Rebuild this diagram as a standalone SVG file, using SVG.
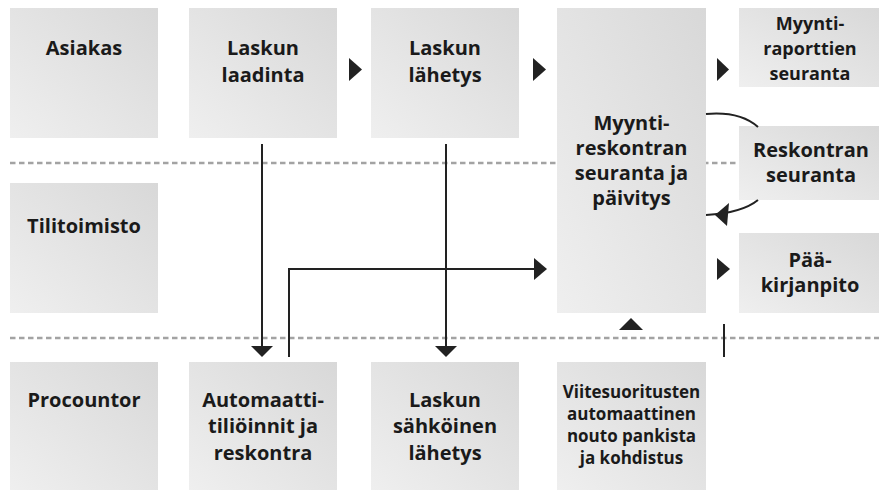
<svg xmlns="http://www.w3.org/2000/svg" width="879" height="490" viewBox="0 0 879 490">
<defs>
<linearGradient id="g" x1="0" y1="1" x2="1" y2="0">
<stop offset="0" stop-color="#efefef"/>
<stop offset="1" stop-color="#d8d8d8"/>
</linearGradient>
</defs>
<style>
.box{fill:url(#g)}
.t{font-family:"Open Sans","Liberation Sans",sans-serif;font-weight:700;font-size:20px;fill:#1a1a1a;text-anchor:middle}
.s{font-size:17px}
.m{font-size:18px}
.dash{stroke:#a3a3a3;stroke-width:2.5;stroke-dasharray:5.5 3.5;fill:none}
.ln{stroke:#222;stroke-width:2;fill:none}
.ah{fill:#222}
</style>
<rect width="879" height="490" fill="#fff"/>
<g id="lanes">
<line class="dash" x1="10" y1="163" x2="879" y2="163"/>
<line class="dash" x1="10" y1="338" x2="879" y2="338"/>
</g>
<g id="asiakas"><rect class="box" x="10" y="8" width="148" height="130"/><text class="t" x="84" y="55">Asiakas</text></g>
<g id="laadinta"><rect class="box" x="189" y="8" width="148" height="130"/><text class="t" x="263" y="55">Laskun<tspan x="263" y="82">laadinta</tspan></text></g>
<g id="lahetys"><rect class="box" x="371" y="8" width="148" height="130"/><text class="t" x="445" y="55">Laskun<tspan x="445" y="82">lähetys</tspan></text></g>
<g id="myyntireskontra"><rect class="box" x="557" y="8" width="149" height="305"/><text class="t" x="631.5" y="130">Myynti-<tspan x="631.5" y="155">reskontran</tspan><tspan x="631.5" y="180">seuranta ja</tspan><tspan x="631.5" y="205">päivitys</tspan></text></g>
<g id="raportit"><rect class="box" x="739" y="8" width="140" height="79"/><text class="t m" x="810" y="30">Myynti-<tspan x="810" y="55">raporttien</tspan><tspan x="810" y="80">seuranta</tspan></text></g>
<g id="reskontranseuranta"><rect class="box" x="739" y="126" width="140" height="74"/><text class="t" x="811" y="157">Reskontran<tspan x="811" y="182">seuranta</tspan></text></g>
<g id="paakirjanpito"><rect class="box" x="739" y="233" width="140" height="80"/><text class="t" x="810" y="267">Pää-<tspan x="810" y="292">kirjanpito</tspan></text></g>
<g id="tilitoimisto"><rect class="box" x="10" y="183" width="148" height="130"/><text class="t" x="84" y="233">Tilitoimisto</text></g>
<g id="procountor"><rect class="box" x="10" y="362" width="148" height="128"/><text class="t" x="84" y="407">Procountor</text></g>
<g id="automaatti"><rect class="box" x="189" y="362" width="148" height="128"/><text class="t" x="263" y="407">Automaatti-<tspan x="263" y="433">tiliöinnit ja</tspan><tspan x="263" y="460">reskontra</tspan></text></g>
<g id="sahkoinen"><rect class="box" x="371" y="362" width="148" height="128"/><text class="t" x="445" y="407">Laskun<tspan x="445" y="433">sähköinen</tspan><tspan x="445" y="460">lähetys</tspan></text></g>
<g id="viitesuoritukset"><rect class="box" x="557" y="362" width="149" height="128"/><text class="t s" x="631.5" y="398">Viitesuoritusten<tspan x="631.5" y="420">automaattinen</tspan><tspan x="631.5" y="442">nouto pankista</tspan><tspan x="631.5" y="464">ja kohdistus</tspan></text></g>
<g id="connectors">
<polygon class="ah" points="349,58 362,69.5 349,81"/>
<polygon class="ah" points="533,58 546,69.5 533,81"/>
<polygon class="ah" points="717,58 729,69.5 717,81"/>
<polygon class="ah" points="717,258 730,269 717,280"/>
<line class="ln" x1="262" y1="144" x2="262" y2="347"/>
<polygon class="ah" points="251,346 273,346 262,357"/>
<line class="ln" x1="446" y1="144" x2="446" y2="347"/>
<polygon class="ah" points="435,346 457,346 446,357"/>
<polyline class="ln" points="289,357 289,269 536,269"/>
<polygon class="ah" points="534,258 547,269 534,280"/>
<polygon class="ah" points="619,330 643,330 631,318"/>
<line class="ln" x1="724" y1="324" x2="724" y2="357"/>
<path class="ln" d="M706 114 Q740 111 758 127"/>
<path class="ln" d="M758 200 Q742 213 706 215"/>
<polygon class="ah" points="715,215 729,203 727,226"/>
</g>
</svg>
